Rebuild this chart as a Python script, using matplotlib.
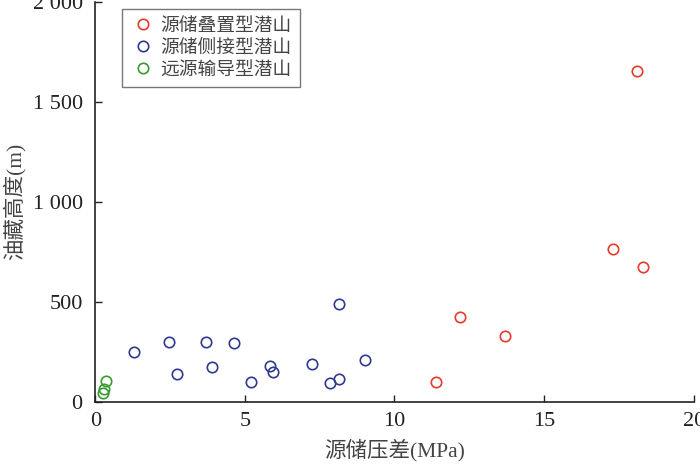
import numpy as np
import matplotlib.pyplot as plt

# source-reservoir pressure difference (MPa) vs reservoir height (m)
red_x = [11.4, 12.2, 13.7, 17.3, 18.1, 18.3]
red_y = [100, 425, 330, 765, 1655, 675]

blue_x = [1.3, 2.45, 2.75, 3.7, 3.9, 4.65, 5.2, 5.85, 5.95, 7.25, 7.85, 8.15, 8.15, 9.0]
blue_y = [250, 302, 143, 302, 177, 297, 103, 183, 153, 190, 98, 115, 488, 211]

green_x = [0.35, 0.3, 0.25]
green_y = [105, 68, 47]

labels = ['源储叠置型潜山', '源储侧接型潜山', '远源输导型潜山']
xticks = [0, 5, 10, 15, 20]
yticks = [0, 500, 1000, 1500, 2000]
yticklabels = ['0', '500', '1 000', '1 500', '2 000']

plt.rcParams['font.family'] = ['Liberation Serif', 'Noto Sans CJK SC']

fig = plt.figure(figsize=(7, 4.66), dpi=100)
ax = fig.add_axes([0.136, 0.137, 0.855, 0.859])

mk = dict(marker='o', linestyle='none', markersize=7.5, markerfacecolor='none',
          markeredgewidth=1.2)
ax.plot(red_x, red_y, markeredgecolor='#e8392b', label=labels[0], **mk)
ax.plot(blue_x, blue_y, markeredgecolor='#2f3a8f', label=labels[1], **mk)
ax.plot(green_x, green_y, markeredgecolor='#3a9a32', label=labels[2], **mk)

ax.set_xlim(0, 20)
ax.set_ylim(0, 2000)
ax.set_xticks(xticks)
ax.set_yticks(yticks)
ax.set_yticklabels(yticklabels)
ax.tick_params(direction='in', length=5, width=1, labelsize=16, colors='#222222')
ax.tick_params(axis='x', pad=7)
ax.tick_params(axis='y', pad=9)
for s in ['top', 'right']:
    ax.spines[s].set_visible(False)
for s in ['left', 'bottom']:
    ax.spines[s].set_linewidth(1.2)
    ax.spines[s].set_color('#222222')

ax.set_xlabel('源储压差(MPa)', fontsize=15.5, color='#444444', labelpad=6)
# y label placed by hand so it stays inside the figure
fig.text(14 / 700, 0.567, '油藏高度(m)', rotation=90, fontsize=15.5,
         color='#444444', ha='center', va='center')

leg = ax.legend(loc='upper left', bbox_to_anchor=(0.045, 0.982), fontsize=13.5,
                frameon=True, fancybox=False, handletextpad=0.3,
                borderpad=0.45, labelspacing=0.25, handlelength=1.3,
                borderaxespad=0)
leg.get_frame().set_edgecolor('#555555')
leg.get_frame().set_linewidth(1.0)
for t in leg.get_texts():
    t.set_color('#444444')

fig.savefig('out.png', dpi=100)
